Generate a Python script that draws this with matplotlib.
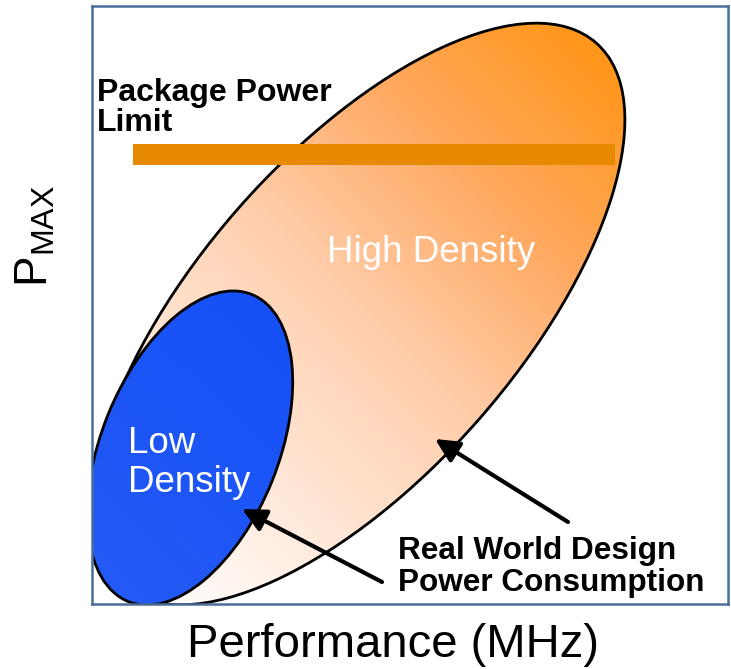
import numpy as np
import matplotlib
matplotlib.use("Agg")
import matplotlib.pyplot as plt
from matplotlib.patches import Ellipse
from matplotlib.colors import LinearSegmentedColormap

plt.rcParams["font.family"] = ["Liberation Sans", "DejaVu Sans"]
plt.rcParams["mathtext.default"] = "regular"

# plot units are pixels of the frame (x right, y up)
XMAX, YMAX = 636, 598

# design regions: center x, center y, width, height, rotation (deg)
high_density = (266.5, 290, 721, 320, 48.75)
low_density = (98, 156, 331, 177, 68.1)

# package power limit line
limit_left, limit_right = 41, 523
limit_y, limit_thick = 449.5, 21

# labels
package_label = "Package Power\nLimit"
high_label = "High Density"
low_label = "Low\nDensity"
real_label = "Real World Design\nPower Consumption"

# arrows: (tail, tip)
arrow_high = ((476, 82), (343, 165))
arrow_low = ((290, 22), (150, 95))

orange_cmap = LinearSegmentedColormap.from_list(
    "hd", [(0.0, "#ffffff"), (0.15, "#fff2ea"), (0.5, "#ffceac"),
           (0.75, "#ffa961"), (1.0, "#ff9618")])
blue_cmap = LinearSegmentedColormap.from_list("ld", ["#245af4", "#1550f8"])


def gradient_ellipse(ax, params, cmap, direction=45, zorder=1):
    cx, cy, w, h, ang = params
    e = Ellipse((cx, cy), w, h, angle=ang, facecolor="none",
                edgecolor="black", lw=2.0, zorder=zorder + 0.5)
    ax.add_patch(e)
    xs = np.linspace(0, XMAX, 640)
    ys = np.linspace(0, YMAX, 600)
    X, Y = np.meshgrid(xs, ys)
    phi = np.deg2rad(direction)
    th = np.deg2rad(ang - direction)
    half = np.sqrt((w / 2 * np.cos(th)) ** 2 + (h / 2 * np.sin(th)) ** 2)
    t = ((X - cx) * np.cos(phi) + (Y - cy) * np.sin(phi)) / half * 0.5 + 0.5
    im = ax.imshow(np.clip(t, 0, 1), cmap=cmap, vmin=0, vmax=1, origin="lower",
                   extent=(0, XMAX, 0, YMAX), aspect="auto", zorder=zorder,
                   interpolation="bilinear")
    im.set_clip_path(e)
    return e


fig = plt.figure(figsize=(7.31, 6.69), dpi=100)
ax = fig.add_axes([92 / 731, 65 / 669, 636 / 731, 598 / 669])
ax.set_xlim(0, XMAX)
ax.set_ylim(0, YMAX)
ax.set_xticks([])
ax.set_yticks([])
for s in ax.spines.values():
    s.set_color("#4a6e99")
    s.set_linewidth(1.8)
    s.set_zorder(10)

gradient_ellipse(ax, high_density, orange_cmap, direction=45, zorder=1)
gradient_ellipse(ax, low_density, blue_cmap, direction=45, zorder=3)

ax.barh(limit_y, limit_right - limit_left, left=limit_left, height=limit_thick,
        color="#e88a00", zorder=5)

ax.text(5, 526, package_label, fontsize=23, fontweight="bold", ha="left",
        va="top", linespacing=1.0, zorder=6)
ax.text(339, 342, high_label, fontsize=26.5, color="white", ha="center",
        va="baseline", zorder=6)
ax.text(36, 178, low_label, fontsize=26.5, color="white", ha="left",
        va="top", linespacing=1.15, zorder=6)
ax.text(306, 68, real_label, fontsize=22.7, fontweight="bold", ha="left",
        va="top", linespacing=1.08, zorder=6)

for tail, tip in (arrow_high, arrow_low):
    ax.annotate("", xy=tip, xytext=tail, zorder=7,
                arrowprops=dict(arrowstyle="-|>,head_length=0.65,head_width=0.32",
                                mutation_scale=22, lw=3.0, color="black",
                                shrinkA=0, shrinkB=0))

ax.set_xlabel("Performance (MHz)", fontsize=34)
ax.xaxis.set_label_coords((393 - 92) / XMAX, -53 / YMAX)
ax.xaxis.label.set_va("baseline")
ax.set_ylabel(r"P$_{MAX}$", fontsize=33)
ax.yaxis.set_label_coords(-56 / XMAX, (604 - 236) / YMAX)
ax.yaxis.label.set_va("center")

fig.savefig("out.png", dpi=100)
